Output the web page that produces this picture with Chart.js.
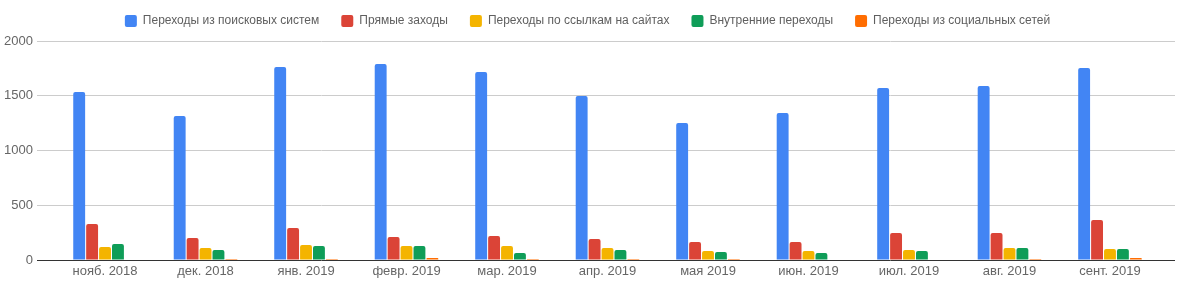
<!DOCTYPE html>
<html>
<head>
<meta charset="utf-8">
<script src="https://cdn.jsdelivr.net/npm/chart.js@4.4.1/dist/chart.umd.min.js"></script>
<style>
  html, body { margin: 0; padding: 0; background: #fff; }
  #wrap { width: 1184px; height: 285px; }
</style>
</head>
<body>
<div id="wrap"><canvas id="chart"></canvas></div>
<script>
// Months (x axis)
var months = ["нояб. 2018", "дек. 2018", "янв. 2019", "февр. 2019", "мар. 2019", "апр. 2019",
  "мая 2019", "июн. 2019", "июл. 2019", "авг. 2019", "сент. 2019"];

// Series values
var searchTraffic = [1534, 1315, 1763, 1790, 1717, 1498, 1251, 1342, 1571, 1589, 1753];
var directTraffic = [329, 201, 292, 210, 219, 192, 164, 164, 247, 247, 365];
var referralTraffic = [119, 110, 137, 128, 128, 110, 82, 82, 91, 110, 100];
var internalTraffic = [146, 91, 128, 128, 64, 91, 73, 64, 82, 110, 100];
var socialTraffic = [0, 8, 8, 18, 8, 8, 8, 0, 0, 8, 18];

var yTicks = [0, 500, 1000, 1500, 2000];

function points(values) {
  return values.map(function (v, i) { return { x: i, y: v }; });
}

function series(label, values, color) {
  return {
    label: label,
    data: points(values),
    backgroundColor: color,
    borderWidth: 0,
    borderRadius: { topLeft: 2, topRight: 2, bottomLeft: 0, bottomRight: 0 },
    borderSkipped: false,
    barPercentage: 0.92,
    categoryPercentage: 0.643,
  };
}

// Legend height fix so the plot starts where the reference does
var legendHeight = {
  id: "legendHeight",
  beforeInit: function (chart) {
    var fit = chart.legend.fit;
    chart.legend.fit = function () {
      fit.bind(chart.legend)();
      this.height = 48;
    };
  },
};

var font = "'Liberation Sans', Arial, sans-serif";

new Chart(document.getElementById("chart"), {
  type: "bar",
  data: {
    datasets: [
      series("Переходы из поисковых систем", searchTraffic, "#4285f4"),
      series("Прямые заходы", directTraffic, "#db4437"),
      series("Переходы по ссылкам на сайтах", referralTraffic, "#f4b400"),
      series("Внутренние переходы", internalTraffic, "#0f9d58"),
      series("Переходы из социальных сетей", socialTraffic, "#ff6d01"),
    ],
  },
  options: {
    responsive: true,
    maintainAspectRatio: false,
    animation: false,
    layout: { padding: { top: -7, right: 9, left: 0, bottom: 0 } },
    plugins: {
      legend: {
        position: "top",
        labels: {
          boxWidth: 12,
          boxHeight: 12,
          useBorderRadius: true,
          borderRadius: 2,
          padding: 22,
          color: "#5f5f5f",
          font: { family: font, size: 12 },
        },
      },
      tooltip: { enabled: false },
    },
    scales: {
      x: {
        type: "linear",
        offset: false,
        min: -0.677,
        max: 10.647,
        grid: { display: false, drawTicks: false, tickLength: 0 },
        border: { display: false },
        afterFit: function (scale) { scale.height = 25; },
        afterBuildTicks: function (scale) {
          scale.ticks = months.map(function (m, i) { return { value: i }; });
        },
        ticks: {
          autoSkip: false,
          maxRotation: 0,
          padding: 4,
          color: "#666",
          font: { family: font, size: 13 },
          callback: function (value) { return months[value]; },
        },
      },
      y: {
        min: 0,
        max: 2000,
        afterFit: function (scale) { scale.width = 37; },
        afterBuildTicks: function (scale) {
          scale.ticks = yTicks.map(function (v) { return { value: v }; });
        },
        grid: {
          drawTicks: false,
          color: function (ctx) { return ctx.tick && ctx.tick.value === 0 ? "#333" : "#ccc"; },
        },
        border: { display: false },
        ticks: {
          padding: 4,
          color: "#666",
          font: { family: font, size: 13 },
          callback: function (value) { return String(value); },
        },
      },
    },
  },
  plugins: [legendHeight],
});
</script>
</body>
</html>
